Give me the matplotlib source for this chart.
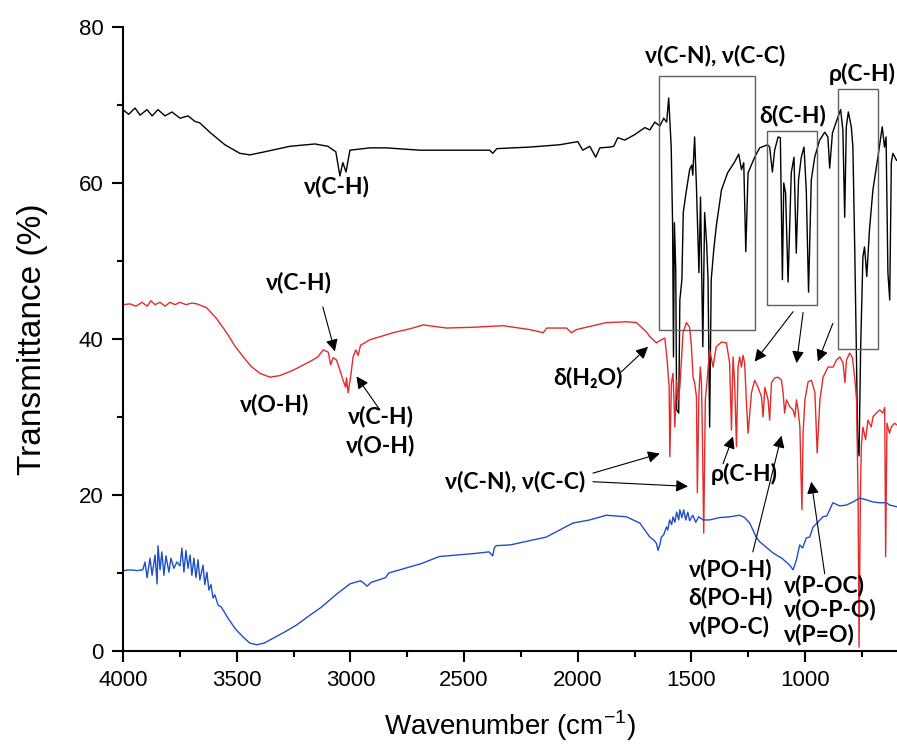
import matplotlib
matplotlib.use("Agg")
import matplotlib.pyplot as plt
from matplotlib.patches import Rectangle

# wavenumber (cm-1) / transmittance (%)
wn_black = [4000, 3975, 3947, 3925, 3894, 3872, 3846, 3815, 3785, 3749, 3714, 3684, 3662,
            3618, 3552, 3486, 3442, 3376, 3266, 3156, 3099, 3064, 3046, 3033, 3019, 3002,
            2914, 2844, 2694, 2562, 2387, 2374, 2356, 2211, 2079, 2000, 1978, 1947, 1921,
            1903, 1859, 1842, 1824, 1793, 1749, 1705, 1683, 1661, 1639, 1622, 1609, 1600,
            1589, 1583, 1579, 1575, 1569, 1565, 1556, 1551, 1542, 1536, 1525, 1508, 1499,
            1494, 1486, 1478, 1467, 1460, 1450, 1442, 1433, 1427, 1420, 1413, 1402, 1391,
            1368, 1341, 1310, 1292, 1280, 1270, 1261, 1251, 1222, 1200, 1165, 1156, 1144,
            1134, 1119, 1109, 1100, 1094, 1086, 1075, 1061, 1049, 1039, 1029, 1017, 1005,
            995, 985, 973, 958, 936, 914, 900, 892, 880, 860, 844, 834, 826, 819, 810, 797,
            790, 782, 775, 769, 763, 756, 746, 739, 734, 729, 717, 702, 680, 661, 651, 644,
            636, 628, 621, 614, 598]
t_black = [69.4, 68.8, 69.6, 68.7, 69.4, 68.6, 69.4, 68.6, 69.1, 68.3, 68.6, 67.9, 67.7,
           66.5, 64.9, 63.8, 63.6, 64.0, 64.7, 65.0, 64.7, 64.0, 60.9, 62.6, 61.4, 64.2,
           64.5, 64.5, 64.2, 64.2, 64.2, 63.8, 64.4, 64.6, 64.9, 65.3, 64.2, 64.7, 63.3,
           64.5, 64.6, 64.7, 65.8, 65.5, 66.2, 67.1, 66.8, 67.8, 67.3, 68.3, 67.8, 70.9,
           64.6, 54.9, 37.7, 54.9, 48.8, 30.9, 30.5, 45.0, 47.6, 56.2, 58.5, 61.7, 62.3,
           61.0, 65.9, 59.5, 48.5, 58.2, 39.0, 56.2, 52.1, 47.6, 28.7, 47.6, 51.4, 54.4,
           59.1, 61.3, 62.7, 63.7, 61.7, 62.6, 51.2, 61.3, 63.3, 64.5, 64.9, 64.6, 61.4,
           64.2, 65.9, 65.8, 47.6, 60.0, 58.7, 47.3, 61.3, 63.3, 51.0, 60.4, 63.3, 64.6,
           59.1, 46.0, 60.4, 63.3, 65.5, 66.5, 65.9, 61.9, 66.4, 68.1, 69.4, 66.8, 55.6,
           67.2, 69.1, 67.2, 64.6, 51.8, 39.0, 27.1, 25.0, 38.6, 50.5, 51.8, 50.1, 48.0,
           54.0, 59.1, 63.3, 67.2, 64.6, 65.9, 48.5, 45.0, 62.6, 63.8, 62.9]

wn_red = [4000, 3969, 3943, 3916, 3894, 3877, 3859, 3837, 3815, 3793, 3771, 3749, 3723,
          3697, 3675, 3632, 3591, 3544, 3508, 3471, 3437, 3398, 3354, 3310, 3251, 3178,
          3143, 3119, 3097, 3087, 3076, 3061, 3046, 3032, 3021, 3017, 3010, 2999, 2988,
          2976, 2966, 2955, 2914, 2812, 2738, 2680, 2577, 2460, 2328, 2211, 2152, 2137,
          2049, 2028, 2006, 1962, 1874, 1786, 1742, 1698, 1683, 1654, 1632, 1617, 1607,
          1598, 1595, 1588, 1581, 1573, 1566, 1559, 1551, 1537, 1522, 1508, 1500, 1493,
          1486, 1478, 1474, 1467, 1461, 1456, 1452, 1446, 1439, 1432, 1420, 1405, 1391,
          1368, 1346, 1332, 1324, 1317, 1310, 1302, 1295, 1288, 1280, 1273, 1266, 1258,
          1251, 1236, 1222, 1207, 1192, 1185, 1177, 1163, 1156, 1148, 1134, 1119, 1104,
          1097, 1090, 1082, 1067, 1053, 1045, 1038, 1031, 1023, 1019, 1014, 1009, 1001,
          987, 972, 957, 947, 935, 921, 899, 877, 862, 847, 833, 825, 818, 804, 792, 781,
          774, 767, 763, 757, 753, 746, 734, 724, 709, 702, 687, 672, 658, 650, 646, 640,
          629, 621, 607, 598]
t_red = [44.4, 44.5, 44.2, 44.7, 44.2, 44.9, 44.4, 44.7, 44.2, 44.7, 44.4, 44.7, 44.4,
         44.6, 44.5, 44.0, 42.7, 40.8, 39.1, 37.7, 36.5, 35.6, 35.1, 35.3, 36.0, 37.1,
         37.7, 38.6, 38.3, 36.7, 37.6, 37.3, 36.0, 34.7, 33.8, 35.0, 33.1, 35.1, 37.7,
         38.6, 37.9, 39.2, 39.9, 40.8, 41.3, 41.8, 41.4, 41.5, 41.7, 41.2, 40.8, 41.4,
         41.4, 40.8, 41.2, 41.5, 42.1, 42.2, 42.1, 40.9, 40.3, 39.5, 39.9, 40.1, 37.3,
         33.8, 24.9, 34.4, 35.6, 28.7, 34.7, 32.2, 33.8, 40.8, 42.1, 41.5, 39.0, 35.1,
         34.4, 32.6, 20.3, 33.1, 36.4, 34.4, 27.9, 15.1, 32.2, 34.4, 38.6, 36.4, 39.0,
         39.6, 39.5, 36.9, 28.3, 37.7, 34.4, 26.2, 36.4, 37.7, 36.4, 37.9, 36.9, 31.8,
         27.9, 33.1, 34.7, 33.8, 32.6, 30.0, 33.8, 32.2, 29.6, 34.4, 35.0, 35.1, 34.7,
         33.1, 30.5, 32.2, 31.3, 30.9, 30.0, 32.2, 30.9, 28.7, 23.6, 18.1, 27.9, 32.2,
         34.5, 34.7, 33.1, 25.4, 32.2, 35.1, 36.4, 36.4, 37.3, 37.7, 36.9, 34.4, 37.3,
         38.2, 37.6, 34.7, 32.2, 19.4, 0.5, 19.4, 26.2, 28.7, 27.1, 29.6, 28.7, 30.0,
         30.5, 30.9, 30.5, 31.2, 12.1, 29.2, 27.9, 28.7, 29.2, 29.0]

wn_blue = [4000, 3969, 3938, 3913, 3903, 3894, 3881, 3872, 3859, 3850, 3846, 3837, 3829,
           3820, 3811, 3798, 3789, 3776, 3763, 3749, 3741, 3732, 3723, 3714, 3705, 3697,
           3688, 3679, 3670, 3662, 3648, 3640, 3631, 3622, 3613, 3604, 3596, 3582, 3567,
           3538, 3505, 3472, 3442, 3411, 3380, 3348, 3291, 3238, 3182, 3128, 3064, 3002,
           2955, 2941, 2927, 2908, 2845, 2831, 2760, 2688, 2610, 2453, 2390, 2374, 2367,
           2359, 2296, 2139, 2021, 1947, 1874, 1786, 1727, 1683, 1665, 1654, 1647, 1639,
           1632, 1622, 1610, 1604, 1596, 1587, 1581, 1573, 1565, 1556, 1551, 1542, 1534,
           1525, 1516, 1508, 1494, 1481, 1468, 1449, 1420, 1376, 1332, 1288, 1266, 1244,
           1215, 1200, 1171, 1147, 1127, 1103, 1083, 1068, 1053, 1038, 1024, 1011, 995,
           980, 965, 944, 922, 905, 892, 878, 848, 819, 790, 760, 734, 702, 672, 643, 628,
           598]
t_blue = [10.3, 10.4, 10.3, 10.4, 11.4, 9.4, 11.9, 9.7, 12.3, 8.6, 13.5, 10.4, 12.7,
          9.7, 12.2, 10.1, 11.9, 10.6, 11.4, 10.9, 13.2, 10.1, 12.9, 10.6, 12.3, 9.7,
          11.9, 9.4, 11.7, 9.1, 11.0, 8.5, 10.1, 7.8, 8.5, 6.8, 7.2, 5.9, 5.6,
          4.2, 2.8, 1.8, 1.0, 0.8, 1.0, 1.5, 2.4, 3.3, 4.5, 5.6, 7.2, 8.6,
          9.0, 8.7, 8.3, 8.8, 9.4, 10.0, 10.6, 11.2, 12.1, 12.5, 12.7, 12.2, 13.2,
          13.5, 13.6, 14.6, 16.4, 16.8, 17.4, 17.2, 16.4, 14.6, 14.2, 13.8, 12.9, 13.6,
          14.6, 14.9, 15.9, 15.5, 16.8, 16.2, 17.2, 16.5, 17.8, 16.8, 18.1, 17.1, 18.1,
          16.8, 17.8, 16.7, 17.4, 16.5, 17.2, 16.8, 16.8, 17.1, 17.2, 17.4, 17.1, 16.4,
          14.6, 14.0, 13.3, 12.7, 12.3, 11.9, 11.4, 11.0, 10.4, 11.7, 13.6, 13.2, 14.5,
          14.6, 15.9, 16.5, 17.2, 17.3, 18.1, 19.0, 18.6, 18.7, 19.1, 19.6, 19.4, 19.1,
          19.0, 19.0, 18.7, 18.5]

# grey boxes: (wn_left, wn_right, t_bottom, t_top)
boxes = [(1643, 1222, 41.2, 73.7), (1166, 948, 44.4, 66.7), (854, 678, 38.7, 72.0)]

fig = plt.figure(figsize=(8.97, 7.53), dpi=100)
ax = fig.add_axes([0.1371, 0.1355, 0.8629, 0.8287])

ax.plot(wn_black, t_black, color="black", lw=1.0)
ax.plot(wn_red, t_red, color="#e32b2b", lw=1.0)
ax.plot(wn_blue, t_blue, color="#1f4fc4", lw=1.0)

for x0, x1, y0, y1 in boxes:
    ax.add_patch(Rectangle((x1, y0), x0 - x1, y1 - y0, fill=False,
                           edgecolor="#606060", lw=1.0, zorder=3))

ax.set_xlim(4000, 596)
ax.set_ylim(0, 80)
ax.set_xticks([4000, 3500, 3000, 2500, 2000, 1500, 1000])
ax.set_xticks([3750, 3250, 2750, 2250, 1750, 1250, 750], minor=True)
ax.set_yticks([0, 20, 40, 60, 80])
ax.set_yticks([10, 30, 50, 70], minor=True)
for s in ["top", "right"]:
    ax.spines[s].set_visible(False)
ax.spines["left"].set_linewidth(1.5)
ax.spines["bottom"].set_linewidth(1.5)
ax.tick_params(which="major", direction="out", length=8, width=1.5,
               labelsize=16, pad=6)
ax.tick_params(which="minor", direction="out", length=4, width=1.5)
for lab in ax.get_xticklabels() + ax.get_yticklabels():
    lab.set_family("Liberation Sans")

ax.set_xlabel(r"Wavenumber (cm$^{\mathregular{-1}}$)", fontsize=20,
              family="Liberation Sans", labelpad=12)
ax.set_ylabel("Transmittance (%)", fontsize=24, family="Liberation Sans",
              labelpad=22)

fam = ["Lato", "DejaVu Sans"]
kw = dict(fontsize=16.5, fontweight="bold", family=fam, ha="center", va="center")
arr = dict(arrowstyle="-|>", color="black", lw=0.8, mutation_scale=18,
           shrinkA=0, shrinkB=0)

ax.text(1398, 76.4, "ν(C-N), ν(C-C)", **kw)
ax.text(1055, 68.6, "δ(C-H)", **kw)
ax.text(751, 74.0, "ρ(C-H)", **kw)
ax.text(3059, 59.6, "ν(C-H)", **kw)
ax.text(3226, 47.3, "ν(C-H)", **kw)
ax.text(3332, 31.6, "ν(O-H)", **kw)
ax.text(2866, 28.2, "ν(C-H)\nν(O-H)", linespacing=1.45, **kw)
ax.text(1956, 35.1, "δ(H₂O)", **kw)
ax.text(2277, 21.7, "ν(C-N), ν(C-C)", **kw)
ax.text(1266, 22.7, "ρ(C-H)", **kw)
ax.text(1512, 6.8, "ν(PO-H)\nδ(PO-H)\nν(PO-C)", linespacing=1.4,
        **{**kw, "ha": "left"})
ax.text(1094, 5.3, "ν(P-OC)\nν(O-P-O)\nν(P=O)", linespacing=1.15,
        **{**kw, "ha": "left"})

arrows = [((3121, 44.1), (3068, 38.4)),
          ((2870, 30.9), (2973, 35.2)),
          ((1808, 35.8), (1691, 39.0)),
          ((1933, 22.8), (1639, 25.3)),
          ((1933, 21.7), (1515, 21.1)),
          ((1361, 24.0), (1317, 27.5)),
          ((1230, 12.7), (1104, 27.6)),
          ((914, 9.9), (973, 21.7)),
          ((1053, 43.5), (1222, 37.1)),
          ((1009, 43.4), (1038, 36.9)),
          ((878, 42.0), (944, 37.1))]
for tail, head in arrows:
    ax.annotate("", xy=head, xytext=tail, arrowprops=arr)

fig.savefig("out.png", dpi=100)
